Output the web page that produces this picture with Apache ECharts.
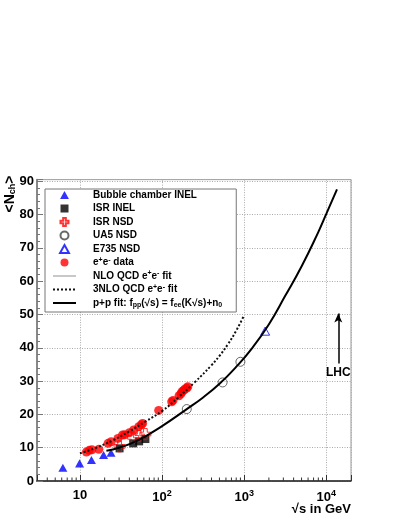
<!DOCTYPE html>
<html>
<head>
<meta charset="utf-8">
<script src="https://cdn.jsdelivr.net/npm/echarts@6/dist/echarts.min.js"></script>
<style>
html, body { margin: 0; padding: 0; background: #fff; }
#chart { width: 399px; height: 516px; }
</style>
</head>
<body>
<div id="chart"></div>
<script>
// values: [sqrt(s) in GeV, <Nch>]
var bubbleInel = [[6.2, 4.0], [9.9, 5.3], [13.8, 6.3], [19.4, 7.8], [23.9, 8.5]];
var isrInel = [[30.4, 9.8], [44.5, 11.3], [52.6, 11.9], [62.7, 12.6]];
var isrNsd = [[30.4, 10.4], [44.5, 13.1], [52.6, 13.5], [62.7, 14.1]];
var ua5Nsd = [[200, 21.6], [546, 29.6], [900, 35.8]];
var e735Nsd = [[1800, 45.0]];
var eeData = [[12, 8.7], [13, 9.2], [14, 9.4], [17, 9.5], [22, 11.3], [24, 11.8], [29, 12.8],
  [33, 13.8], [35, 13.9], [40, 14.5], [45, 15.3], [52, 16.3], [56, 16.9], [58, 17.3],
  [91, 21.2], [131, 23.8], [136, 24.2], [161, 25.6], [170, 26.2], [175, 26.8], [183, 27.2],
  [189, 27.6], [200, 27.9], [206, 28.3]];
var nloFit = [];
var nnnloFit = [[10, 8.3], [15.8, 10.0], [25.1, 12.2], [39.8, 14.9], [63.1, 17.9], [100, 21.0],
  [158, 25.1], [251, 29.7], [398, 34.7], [501, 37.6], [631, 41.0], [794, 45.0], [977, 49.3]];
var ppFit = [[21, 9.1], [30, 10.0], [50, 12.1], [100, 16.5], [200, 21.6], [316, 25.1], [501, 29.2],
  [794, 34.2], [1259, 40.0], [1995, 47.0], [3162, 55.6], [5012, 64.5], [7943, 74.6],
  [10000, 80.2], [13500, 87.6]];
var lhc = { x: 14000, from: 35.3, to: 50.3 };

var xMin = 3, xMax = 20000;
var yMax = 90.5;

// minor ticks of the log axis (2..9 in each decade)
var minorX = [];
[1, 10, 100, 1000, 10000].forEach(function (d) {
  for (var k = 2; k <= 9; k++) {
    var v = k * d;
    if (v > xMin && v < xMax) minorX.push([v, 0]);
  }
});

var FONT = 'Liberation Sans, Arial, sans-serif';
var TRI = 'path://M5,0 L10,9 L0,9 Z';
var SQR = 'path://M0,0 H10 V10 H0 Z';
var CROSS = 'path://M1,0 H2 V1 H3 V2 H2 V3 H1 V2 H0 V1 H1 Z';

var legendNames = ['Bubble chamber INEL', 'ISR INEL', 'ISR NSD', 'UA5 NSD', 'E735 NSD',
  'e+e- data', 'NLO QCD e+e- fit', '3NLO QCD e+e- fit', 'p+p fit'];
var lineNames = ['NLO QCD e+e- fit', '3NLO QCD e+e- fit', 'p+p fit'];
var legendText = {
  'e+e- data': 'e{sup|+}e{sup|-} data',
  'NLO QCD e+e- fit': 'NLO QCD e{sup|+}e{sup|-} fit',
  '3NLO QCD e+e- fit': '3NLO QCD e{sup|+}e{sup|-} fit',
  'p+p fit': 'p+p fit: f{sub|pp}(√s) = f{sub|ee}(K√s)+n{sub|0}'
};

var chart = echarts.init(document.getElementById('chart'));

var option = {
  animation: false,
  backgroundColor: '#fff',
  grid: {
    left: 37, right: 48, top: 481 - yMax * 3.33, bottom: 35,
    show: true, borderColor: '#999', borderWidth: 1
  },
  xAxis: {
    type: 'log',
    logBase: 10,
    min: xMin,
    max: xMax,
    axisLine: { lineStyle: { color: '#222', width: 1.5 } },
    axisTick: { inside: true, length: 6, lineStyle: { color: '#333' } },
    axisLabel: {
      margin: 8,
      color: '#000',
      fontSize: 13,
      fontWeight: 'bold',
      fontFamily: FONT,
      formatter: function (v) {
        var e = Math.round(Math.log10(v));
        if (Math.abs(Math.pow(10, e) - v) > 1e-6 * v) return '';
        if (e === 1) return '10';
        return '10{sup|' + e + '}';
      },
      rich: {
        sup: { fontSize: 9, fontWeight: 'bold', fontFamily: FONT, color: '#000', padding: [0, 0, 7, 0] }
      }
    },
    splitLine: { show: true, lineStyle: { color: '#aaa', type: [1, 1.5], width: 1 } }
  },
  yAxis: {
    type: 'value',
    min: 0,
    max: yMax,
    interval: 10,
    axisLine: { show: true, lineStyle: { color: '#888', width: 2 } },
    axisTick: { inside: true, length: 6, lineStyle: { color: '#777' } },
    minorTick: { show: true, splitNumber: 5, length: 3, lineStyle: { color: '#777' } },
    axisLabel: {
      margin: 3,
      color: '#000',
      fontSize: 13,
      fontWeight: 'bold',
      fontFamily: FONT,
      showMaxLabel: false
    },
    splitLine: { show: true, lineStyle: { color: '#aaa', type: [1, 1.5], width: 1 } }
  },
  legend: {
    data: legendNames.map(function (n) {
      return lineNames.indexOf(n) >= 0 ? { name: n, itemStyle: { opacity: 0 } } : { name: n };
    }),
    orient: 'vertical',
    left: 45,
    top: 189,
    padding: [0, 14, 3, 7],
    itemWidth: 23,
    itemHeight: 8,
    itemGap: 1.5,
    symbolKeepAspect: true,
    selectedMode: false,
    backgroundColor: '#fff',
    borderColor: '#777',
    borderWidth: 1,
    borderRadius: 0,
    textStyle: {
      color: '#000',
      fontSize: 10,
      lineHeight: 12,
      fontWeight: 'bold',
      fontFamily: FONT,
      padding: [0, 0, 0, 12],
      rich: {
        sup: { fontSize: 7, lineHeight: 6, fontWeight: 'bold', fontFamily: FONT, color: '#000', padding: [0, 0, 5, 0] },
        sub: { fontSize: 7, lineHeight: 6, fontWeight: 'bold', fontFamily: FONT, color: '#000', padding: [5, 0, 0, 0] }
      }
    },
    formatter: function (name) { return legendText[name] || name; }
  },
  graphic: [
    {
      type: 'text', x: 10, y: 194, rotation: Math.PI / 2,
      style: {
        text: '<N{sub|ch}>',
        fontSize: 14, fontWeight: 'bold', fontFamily: FONT, fill: '#000',
        align: 'center', verticalAlign: 'middle',
        rich: { sub: { fontSize: 9, fontWeight: 'bold', fontFamily: FONT, padding: [6, 0, 0, 0] } }
      }
    },
    {
      type: 'text', x: 351, y: 509,
      style: {
        text: '√s in GeV',
        fontSize: 13, fontWeight: 'bold', fontFamily: FONT, fill: '#000',
        align: 'right', verticalAlign: 'middle'
      }
    }
  ],
  series: [
    {
      name: 'NLO QCD e+e- fit', type: 'line', data: nloFit, symbol: 'none',
      lineStyle: { color: '#c8c8c8', width: 2.5 }, itemStyle: { color: '#c8c8c8' }
    },
    {
      name: '3NLO QCD e+e- fit', type: 'line', data: nnnloFit, symbol: 'none', smooth: true,
      lineStyle: { color: '#111', width: 2, type: [2, 2] }, itemStyle: { color: '#111' }
    },
    {
      name: 'p+p fit', type: 'line', data: ppFit, symbol: 'none', smooth: true,
      lineStyle: { color: '#000', width: 2 }, itemStyle: { color: '#000' },
      markLine: {
        silent: true,
        symbol: ['none', 'arrow'],
        symbolSize: [6, 9],
        lineStyle: { color: '#000', width: 1.5, type: 'solid' },
        label: {
          show: true, position: 'start', distance: 3, formatter: 'LHC',
          color: '#000', fontSize: 12, fontWeight: 'bold', fontFamily: FONT
        },
        data: [[{ coord: [lhc.x, lhc.from] }, { coord: [lhc.x, lhc.to] }]]
      }
    },
    {
      name: 'minor', type: 'custom', data: minorX, silent: true,
      renderItem: function (params, api) {
        var p = api.coord([api.value(0), 0]);
        return {
          type: 'line',
          shape: { x1: p[0], y1: p[1], x2: p[0], y2: p[1] - 3.5 },
          style: { stroke: '#333', lineWidth: 1 }
        };
      }
    },
    {
      name: 'Bubble chamber INEL', type: 'scatter', data: bubbleInel, symbol: TRI, symbolSize: 9,
      symbolKeepAspect: true, itemStyle: { color: '#0000ff' }
    },
    {
      name: 'ISR INEL', type: 'scatter', data: isrInel, symbol: SQR, symbolSize: 8,
      symbolKeepAspect: true, itemStyle: { color: '#000' }
    },
    {
      name: 'ISR NSD', type: 'scatter', data: isrNsd, symbol: CROSS, symbolSize: 11,
      symbolKeepAspect: true,
      itemStyle: { color: 'rgba(255,255,255,0)', borderColor: '#ff0000', borderWidth: 1 }
    },
    {
      name: 'UA5 NSD', type: 'scatter', data: ua5Nsd, symbol: 'circle', symbolSize: 9,
      itemStyle: { color: 'rgba(255,255,255,0)', borderColor: '#444', borderWidth: 1 }
    },
    {
      name: 'E735 NSD', type: 'scatter', data: e735Nsd, symbol: TRI, symbolSize: 9,
      symbolKeepAspect: true,
      itemStyle: { color: 'rgba(255,255,255,0)', borderColor: '#0000ff', borderWidth: 1 }
    },
    {
      name: 'e+e- data', type: 'scatter', data: eeData, symbol: 'circle', symbolSize: 9,
      itemStyle: { color: '#ff0000' }
    }
  ]
};

chart.setOption(option);
</script>
</body>
</html>
